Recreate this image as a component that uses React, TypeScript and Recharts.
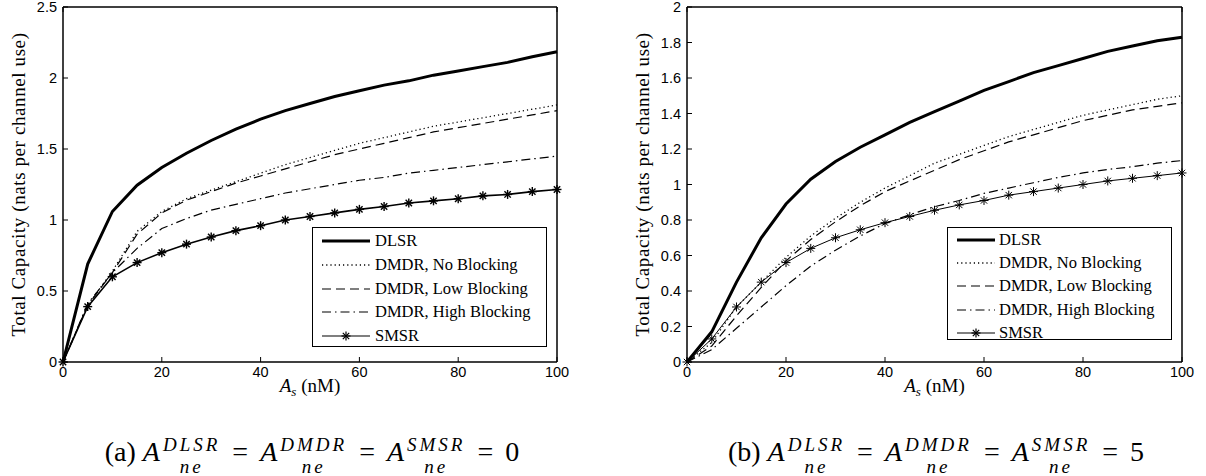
import React from 'react';
import { LineChart, Line, XAxis, YAxis, Label } from 'recharts';

// ---------- data ----------
const asValues = [0, 5, 10, 15, 20, 25, 30, 35, 40, 45, 50, 55, 60, 65, 70, 75, 80, 85, 90, 95, 100];

// panel (a)
const dlsrA = [0, 0.69, 1.06, 1.245, 1.37, 1.47, 1.56, 1.64, 1.71, 1.77, 1.82, 1.87, 1.91, 1.95, 1.98, 2.02, 2.05, 2.08, 2.11, 2.15, 2.185];
const noBlockA = [0, 0.4, 0.64, 0.92, 1.06, 1.15, 1.21, 1.27, 1.33, 1.39, 1.44, 1.49, 1.54, 1.58, 1.62, 1.66, 1.69, 1.72, 1.75, 1.78, 1.81];
const lowBlockA = [0, 0.4, 0.63, 0.9, 1.05, 1.14, 1.2, 1.26, 1.31, 1.36, 1.41, 1.46, 1.5, 1.54, 1.58, 1.62, 1.65, 1.68, 1.71, 1.74, 1.77];
const highBlockA = [0, 0.41, 0.63, 0.8, 0.94, 1.01, 1.07, 1.11, 1.15, 1.19, 1.22, 1.25, 1.28, 1.3, 1.33, 1.35, 1.37, 1.39, 1.41, 1.43, 1.45];
const smsrA = [0, 0.39, 0.6, 0.7, 0.77, 0.83, 0.88, 0.925, 0.96, 1.0, 1.025, 1.05, 1.075, 1.095, 1.12, 1.135, 1.15, 1.17, 1.18, 1.2, 1.215];

// panel (b)
const dlsrB = [0, 0.17, 0.45, 0.7, 0.89, 1.03, 1.13, 1.21, 1.28, 1.35, 1.41, 1.47, 1.53, 1.58, 1.63, 1.67, 1.71, 1.75, 1.78, 1.81, 1.83];
const noBlockB = [0, 0.11, 0.31, 0.45, 0.59, 0.71, 0.81, 0.9, 0.98, 1.05, 1.12, 1.17, 1.22, 1.27, 1.31, 1.35, 1.39, 1.42, 1.45, 1.48, 1.5];
const lowBlockB = [0, 0.09, 0.26, 0.42, 0.57, 0.69, 0.79, 0.88, 0.96, 1.02, 1.08, 1.14, 1.19, 1.24, 1.28, 1.32, 1.36, 1.39, 1.42, 1.44, 1.46];
const highBlockB = [0, 0.07, 0.19, 0.31, 0.43, 0.54, 0.63, 0.71, 0.78, 0.83, 0.875, 0.91, 0.95, 0.98, 1.01, 1.04, 1.065, 1.085, 1.1, 1.12, 1.135];
const smsrB = [0, 0.13, 0.31, 0.45, 0.56, 0.64, 0.7, 0.745, 0.785, 0.82, 0.855, 0.885, 0.91, 0.94, 0.96, 0.98, 1.0, 1.02, 1.035, 1.05, 1.065];

const xTicks = [0, 20, 40, 60, 80, 100];
const yTicksA = [0, 0.5, 1, 1.5, 2, 2.5];
const yTicksB = [0, 0.2, 0.4, 0.6, 0.8, 1, 1.2, 1.4, 1.6, 1.8, 2];

const seriesNames = ['DLSR', 'DMDR, No Blocking', 'DMDR, Low Blocking', 'DMDR, High Blocking', 'SMSR'];
const yAxisTitle = 'Total Capacity (nats per channel use)';
const xAxisTitleMain = 'A';
const xAxisTitleSub = 's';
const xAxisTitleUnit = ' (nM)';
const captionLabels = ['(a)', '(b)'];
const captionValues = ['0', '5'];
const captionSupers = ['DLSR', 'DMDR', 'SMSR'];
const captionSub = 'ne';

const buildRows = (d: number[], n: number[], l: number[], h: number[], s: number[]) =>
  asValues.map((x, i) => ({ x, dlsr: d[i], noB: n[i], lowB: l[i], highB: h[i], smsr: s[i] }));

const rowsA = buildRows(dlsrA, noBlockA, lowBlockA, highBlockA, smsrA);
const rowsB = buildRows(dlsrB, noBlockB, lowBlockB, highBlockB, smsrB);

// ---------- styles ----------
const DOT = '1.2 3';
const DASH = '9 5';
const DASHDOT = '9 4 1.5 4';
const sans = "'Liberation Sans', Arial, sans-serif";
const serif = "'Liberation Serif', 'DejaVu Serif', serif";
const tickFont = { fontFamily: sans, fontSize: 14.5, fill: '#000' };

const makeStar = (r: number, w: number) => (props: any) => {
  const { cx, cy, index } = props;
  if (cx == null || cy == null) return <g key={`e${index}`} />;
  const d = r * 0.7071;
  return (
    <g key={`s${index}`} stroke="#000" strokeWidth={w}>
      <line x1={cx - r} y1={cy} x2={cx + r} y2={cy} />
      <line x1={cx} y1={cy - r} x2={cx} y2={cy + r} />
      <line x1={cx - d} y1={cy - d} x2={cx + d} y2={cy + d} />
      <line x1={cx - d} y1={cy + d} x2={cx + d} y2={cy - d} />
    </g>
  );
};

const YTitle = (props: any) => {
  const vb = props.viewBox || { x: 0, y: 0, width: 0, height: 0 };
  const x = vb.x - 1.5;
  const y = vb.y + vb.height / 2;
  return (
    <text
      x={x}
      y={y}
      transform={`rotate(-90, ${x}, ${y})`}
      textAnchor="middle"
      dominantBaseline="central"
      style={{ fontFamily: serif, fontSize: 19, letterSpacing: 0.6 }}
      fill="#000"
    >
      {yAxisTitle}
    </text>
  );
};

const XTitle = (props: any) => {
  const vb = props.viewBox || { x: 0, y: 0, width: 0, height: 0 };
  const x = vb.x + vb.width / 2;
  const y = vb.y + 30;
  return (
    <text x={x} y={y} textAnchor="middle" style={{ fontFamily: serif, fontSize: 19 }} fill="#000">
      <tspan fontStyle="italic">{xAxisTitleMain}</tspan>
      <tspan fontStyle="italic" fontSize={13} dy={4}>{xAxisTitleSub}</tspan>
      <tspan dy={-4}>{xAxisTitleUnit}</tspan>
    </text>
  );
};

type PanelProps = {
  rows: any[];
  yTicks: number[];
  yMax: number;
  width: number;
  margin: { top: number; right: number; bottom: number; left: number };
  smsrWidth: number;
  starW: number;
};

const Panel = ({ rows, yTicks, yMax, width, margin, smsrWidth, starW }: PanelProps) => (
  <LineChart width={width} height={420} data={rows} margin={margin}>
    <XAxis
      xAxisId="b"
      dataKey="x"
      type="number"
      domain={[0, 100]}
      ticks={xTicks}
      interval={0}
      height={50}
      tickSize={-5}
      tickMargin={10}
      tick={tickFont}
      axisLine={{ stroke: '#000', strokeWidth: 1.5 }}
      tickLine={{ stroke: '#000' }}
    >
      <Label content={<XTitle />} />
    </XAxis>
    <XAxis
      xAxisId="t"
      orientation="top"
      mirror
      type="number"
      domain={[0, 100]}
      ticks={xTicks}
      interval={0}
      tickSize={5}
      tickFormatter={() => ''}
      axisLine={{ stroke: '#000', strokeWidth: 1.5 }}
      tickLine={{ stroke: '#000' }}
    />
    <YAxis
      yAxisId="l"
      type="number"
      domain={[0, yMax]}
      ticks={yTicks}
      interval={0}
      width={43}
      tickSize={-5}
      tickMargin={11}
      tick={tickFont}
      axisLine={{ stroke: '#000', strokeWidth: 1.5 }}
      tickLine={{ stroke: '#000' }}
    >
      <Label content={<YTitle />} />
    </YAxis>
    <YAxis
      yAxisId="r"
      orientation="right"
      mirror
      type="number"
      domain={[0, yMax]}
      ticks={yTicks}
      interval={0}
      width={43}
      tickSize={5}
      tickFormatter={() => ''}
      axisLine={{ stroke: '#000', strokeWidth: 1.5 }}
      tickLine={{ stroke: '#000' }}
    />
    <Line xAxisId="b" yAxisId="l" dataKey="highB" stroke="#000" strokeWidth={1.2} strokeDasharray={DASHDOT} dot={false} isAnimationActive={false} />
    <Line xAxisId="b" yAxisId="l" dataKey="lowB" stroke="#000" strokeWidth={1.2} strokeDasharray={DASH} dot={false} isAnimationActive={false} />
    <Line xAxisId="b" yAxisId="l" dataKey="noB" stroke="#000" strokeWidth={1.3} strokeDasharray={DOT} dot={false} isAnimationActive={false} />
    <Line xAxisId="b" yAxisId="l" dataKey="smsr" stroke="#000" strokeWidth={smsrWidth} dot={makeStar(4.5, starW)} isAnimationActive={false} />
    <Line xAxisId="b" yAxisId="l" dataKey="dlsr" stroke="#000" strokeWidth={3} dot={false} isAnimationActive={false} />
  </LineChart>
);

const sampleStyles = [
  { w: 3, dash: undefined as string | undefined, star: false },
  { w: 1.3, dash: DOT, star: false },
  { w: 1.2, dash: DASH, star: false },
  { w: 1.2, dash: DASHDOT, star: false },
  { w: 1.2, dash: undefined as string | undefined, star: true },
];

const LegendBox = ({ left, top, width, height, sampleLen, rowGap, firstRow, sampleLeft, textLeft }: any) => (
  <div
    style={{
      position: 'absolute',
      left,
      top,
      width,
      height,
      border: '1.5px solid #000',
      boxSizing: 'border-box',
      background: '#fff',
    }}
  >
    {seriesNames.map((name, i) => {
      const s = sampleStyles[i];
      const cy = firstRow + i * rowGap;
      const m = sampleLen / 2 + 2;
      return (
        <div key={name} style={{ position: 'absolute', left: 0, top: cy - 10, height: 20, width: '100%' }}>
          <svg width={sampleLen + 4} height={20} style={{ position: 'absolute', left: sampleLeft - 2, top: 0 }}>
            <line x1={2} y1={10} x2={sampleLen + 2} y2={10} stroke="#000" strokeWidth={s.w} strokeDasharray={s.dash} />
            {s.star ? (
              <g stroke="#000" strokeWidth={1.2}>
                <line x1={m - 4.5} y1={10} x2={m + 4.5} y2={10} />
                <line x1={m} y1={5.5} x2={m} y2={14.5} />
                <line x1={m - 3.2} y1={6.8} x2={m + 3.2} y2={13.2} />
                <line x1={m - 3.2} y1={13.2} x2={m + 3.2} y2={6.8} />
              </g>
            ) : null}
          </svg>
          <span
            style={{
              position: 'absolute',
              left: textLeft,
              top: 0,
              lineHeight: '20px',
              fontFamily: serif,
              fontSize: 16.5,
              whiteSpace: 'nowrap',
              color: '#000',
            }}
          >
            {name}
          </span>
        </div>
      );
    })}
  </div>
);

const Ane = ({ sup }: { sup: string }) => (
  <span style={{ whiteSpace: 'nowrap' }}>
    <span style={{ fontStyle: 'italic' }}>A</span>
    <span
      style={{
        display: 'inline-flex',
        flexDirection: 'column',
        fontSize: 19,
        lineHeight: '22px',
        fontStyle: 'italic',
        letterSpacing: 3,
        verticalAlign: 'middle',
        marginLeft: 3,
        position: 'relative',
        top: 1,
      }}
    >
      <span>{sup}</span>
      <span>{captionSub}</span>
    </span>
  </span>
);

const Caption = ({ idx, center }: { idx: number; center: number }) => (
  <div
    style={{
      position: 'absolute',
      left: center - 300,
      width: 600,
      top: 432,
      textAlign: 'center',
      fontFamily: serif,
      fontSize: 28,
      lineHeight: '40px',
      color: '#000',
      whiteSpace: 'nowrap',
    }}
  >
    {captionLabels[idx]}{' '}
    {captionSupers.map((s) => (
      <React.Fragment key={s}>
        <Ane sup={s} />
        <span style={{ margin: '0 12px' }}>=</span>
      </React.Fragment>
    ))}
    {captionValues[idx]}
  </div>
);

export default function App() {
  return (
    <div style={{ position: 'absolute', left: 0, top: 0, width: 1206, height: 476, background: '#fff', overflow: 'hidden' }}>
      <div style={{ position: 'absolute', left: 0, top: 0 }}>
        <Panel
          rows={rowsA}
          yTicks={yTicksA}
          yMax={2.5}
          width={600}
          margin={{ top: 7, right: 43, bottom: 8, left: 20 }}
          smsrWidth={1.6}
          starW={1.4}
        />
      </div>
      <div style={{ position: 'absolute', left: 600, top: 0 }}>
        <Panel
          rows={rowsB}
          yTicks={yTicksB}
          yMax={2}
          width={606}
          margin={{ top: 7, right: 24, bottom: 8, left: 44 }}
          smsrWidth={1}
          starW={1}
        />
      </div>
      <LegendBox left={312} top={227} width={235} height={120} sampleLen={48} rowGap={23.75} firstRow={13} sampleLeft={9} textLeft={62} />
      <LegendBox left={947} top={227} width={225} height={113} sampleLen={38} rowGap={23.2} firstRow={12} sampleLeft={9} textLeft={51} />
      <Caption idx={0} center={312} />
      <Caption idx={1} center={936} />
    </div>
  );
}
